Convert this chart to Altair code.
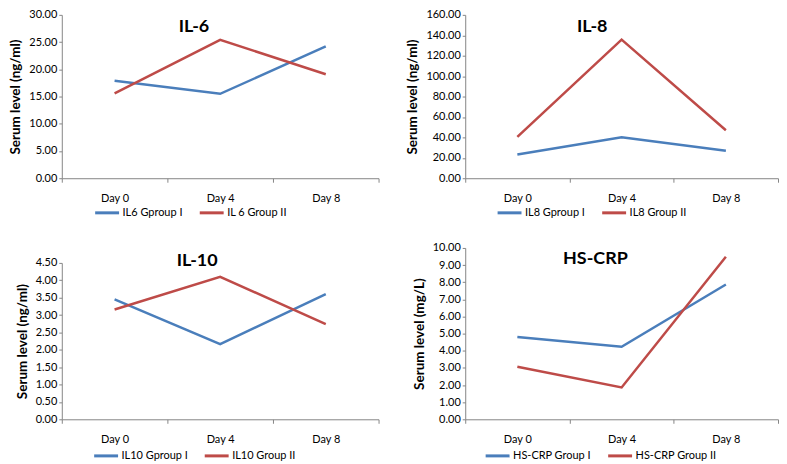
import altair as alt
import pandas as pd

days = ["Day 0", "Day 4", "Day 8"]

il6_names = ["IL6 Gproup I", "IL 6 Group II"]
il6_g1 = [17.9, 15.5, 24.2]
il6_g2 = [15.6, 25.4, 19.1]
il6_ticks = [0, 5, 10, 15, 20, 25, 30]

il8_names = ["IL8 Gproup I", "IL8 Group II"]
il8_g1 = [23.3, 40.0, 27.0]
il8_g2 = [40.5, 135.7, 47.0]
il8_ticks = [0, 20, 40, 60, 80, 100, 120, 140, 160]

il10_names = ["IL10 Gproup I", "IL10 Group II"]
il10_g1 = [3.45, 2.16, 3.60]
il10_g2 = [3.16, 4.10, 2.74]
il10_ticks = [0, 0.5, 1.0, 1.5, 2.0, 2.5, 3.0, 3.5, 4.0, 4.5]

crp_names = ["HS-CRP Group I", "HS-CRP Group II"]
crp_g1 = [4.80, 4.23, 7.87]
crp_g2 = [3.07, 1.86, 9.49]
crp_ticks = [0, 1, 2, 3, 4, 5, 6, 7, 8, 9, 10]

BLUE = "#4A7EBB"
RED = "#BE4B48"
FONT = "Lato"


def panel(title, names, g1, g2, ticks, ytitle, w, h, legx, legy, title_offset):
    df = pd.DataFrame({
        "day": days * 2,
        "value": g1 + g2,
        "series": [names[0]] * 3 + [names[1]] * 3,
    })
    return alt.Chart(df).mark_line(strokeWidth=2.5).encode(
        x=alt.X("day:N", sort=days,
                scale=alt.Scale(type="band", paddingInner=0, paddingOuter=0),
                axis=alt.Axis(title=None, labelAngle=0, tickBand="extent",
                              labelPadding=10, tickSize=4)),
        y=alt.Y("value:Q",
                scale=alt.Scale(domain=[ticks[0], ticks[-1]], nice=False, zero=True),
                axis=alt.Axis(values=ticks, format=".2f", title=ytitle,
                              titlePadding=6, labelPadding=2, tickSize=3)),
        color=alt.Color("series:N",
                        scale=alt.Scale(domain=names, range=[BLUE, RED]),
                        legend=alt.Legend(title=None, orient="none", legendX=legx,
                                          legendY=legy, direction="horizontal")),
    ).properties(
        width=w, height=h,
        title=alt.TitleParams(title, offset=title_offset, anchor="middle",
                              frame="bounds"),
    )


tl = panel("IL-6", il6_names, il6_g1, il6_g2, il6_ticks, "Serum level (ng/ml)",
           318, 164, 32, 164 + 21, -27)
tr = panel("IL-8", il8_names, il8_g1, il8_g2, il8_ticks, "Serum level (ng/ml)",
           314, 164, 31, 164 + 21, -27)
bl = panel("IL-10", il10_names, il10_g1, il10_g2, il10_ticks, "Serum level (ng/ml)",
           318, 157, 31, 157 + 23, -13)
br = panel("HS-CRP", crp_names, crp_g1, crp_g2, crp_ticks, "Serum level (mg/L)",
           314, 172, 19, 172 + 23, -26)

left = alt.vconcat(tl, bl, spacing=85, bounds="flush").resolve_scale(color="independent")
right = alt.vconcat(tr, br, spacing=70, bounds="flush").resolve_scale(color="independent")

chart = alt.hconcat(left, right, spacing=26).resolve_scale(
    color="independent"
).properties(
    padding={"left": 0, "top": 0, "right": 0, "bottom": 0}
).configure_axis(
    domainColor="#868686", tickColor="#868686", labelFont=FONT, labelFontSize=11,
    labelColor="#000000", titleFont=FONT, titleFontSize=13.5, titleFontWeight="bold",
    titleColor="#000000", grid=False,
).configure_legend(
    labelFont=FONT, labelFontSize=11, labelColor="#000000", symbolType="stroke",
    symbolSize=576, symbolStrokeWidth=3, columnPadding=10, labelOffset=2,
).configure_title(
    font=FONT, fontSize=18, fontWeight="bold", color="#000000",
).configure_view(stroke=None)

chart.save("out.html", embed_options={"renderer": "svg", "actions": False})
